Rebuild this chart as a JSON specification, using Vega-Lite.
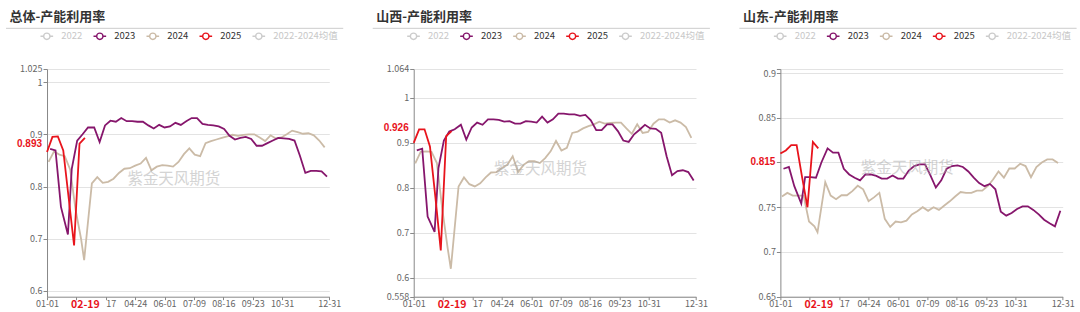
{
"$schema": "https://vega.github.io/schema/vega-lite/v6.json",
"background": "#ffffff",
"padding": {"left": 5, "top": 10, "right": 0, "bottom": 0},
"bounds": "flush",
"spacing": 83.7,
"resolve": {"scale": {"color": "independent"}, "legend": {"color": "independent"}},
"config": {
  "font": "Noto Sans CJK SC",
  "view": {"stroke": null},
  "axis": {"labelFont": "Noto Sans CJK SC", "labelFontSize": 9, "labelColor": "#666666", "domainColor": "#888888", "tickColor": "#888888", "gridColor": "#e3e3e3", "labelOverlap": false},
  "axisX": {"grid": false, "labelOverlap": false, "labelFlush": false, "tickSize": 3, "labelPadding": 0},
  "axisY": {"grid": true, "labelOverlap": false, "tickSize": 4, "labelPadding": 1},
  "title": {"anchor": "start", "frame": "bounds", "font": "Noto Sans CJK SC", "fontSize": 13, "fontWeight": "bold", "color": "#333333", "offset": 4, "dx": 4},
  "legend": {"orient": "none", "legendX": -7.7, "legendY": -40.5, "direction": "horizontal", "title": null, "symbolType": "M-1,0L-0.5,0M0.5,0L1,0M0.5,0A0.5,0.5,0,1,1,-0.5,0A0.5,0.5,0,1,1,0.5,0", "symbolSize": 160, "symbolStrokeWidth": 1.4, "symbolFillColor": "#ffffff", "labelFontSize": 9.5, "labelFont": "Noto Sans CJK SC", "labelColor": "#333333", "labelOffset": 7, "columnPadding": 7, "padding": 0}
},
"datasets": {"rows": [
{"panel":"总体","series":"2024","date":"2024-01-03","value":0.847},
{"panel":"总体","series":"2024","date":"2024-01-10","value":0.867},
{"panel":"总体","series":"2024","date":"2024-01-17","value":0.861},
{"panel":"总体","series":"2024","date":"2024-01-24","value":0.858},
{"panel":"总体","series":"2024","date":"2024-01-31","value":0.832},
{"panel":"总体","series":"2024","date":"2024-02-07","value":0.755},
{"panel":"总体","series":"2024","date":"2024-02-14","value":0.700},
{"panel":"总体","series":"2024","date":"2024-02-18","value":0.659},
{"panel":"总体","series":"2024","date":"2024-02-28","value":0.806},
{"panel":"总体","series":"2024","date":"2024-03-06","value":0.818},
{"panel":"总体","series":"2024","date":"2024-03-13","value":0.807},
{"panel":"总体","series":"2024","date":"2024-03-20","value":0.809},
{"panel":"总体","series":"2024","date":"2024-03-27","value":0.815},
{"panel":"总体","series":"2024","date":"2024-04-03","value":0.826},
{"panel":"总体","series":"2024","date":"2024-04-10","value":0.834},
{"panel":"总体","series":"2024","date":"2024-04-17","value":0.835},
{"panel":"总体","series":"2024","date":"2024-04-24","value":0.840},
{"panel":"总体","series":"2024","date":"2024-05-01","value":0.844},
{"panel":"总体","series":"2024","date":"2024-05-08","value":0.855},
{"panel":"总体","series":"2024","date":"2024-05-15","value":0.831},
{"panel":"总体","series":"2024","date":"2024-05-22","value":0.838},
{"panel":"总体","series":"2024","date":"2024-05-29","value":0.841},
{"panel":"总体","series":"2024","date":"2024-06-05","value":0.840},
{"panel":"总体","series":"2024","date":"2024-06-12","value":0.838},
{"panel":"总体","series":"2024","date":"2024-06-19","value":0.847},
{"panel":"总体","series":"2024","date":"2024-06-26","value":0.862},
{"panel":"总体","series":"2024","date":"2024-07-03","value":0.873},
{"panel":"总体","series":"2024","date":"2024-07-10","value":0.861},
{"panel":"总体","series":"2024","date":"2024-07-17","value":0.858},
{"panel":"总体","series":"2024","date":"2024-07-24","value":0.883},
{"panel":"总体","series":"2024","date":"2024-07-31","value":0.887},
{"panel":"总体","series":"2024","date":"2024-08-07","value":0.890},
{"panel":"总体","series":"2024","date":"2024-08-14","value":0.893},
{"panel":"总体","series":"2024","date":"2024-08-21","value":0.896},
{"panel":"总体","series":"2024","date":"2024-08-28","value":0.899},
{"panel":"总体","series":"2024","date":"2024-09-04","value":0.897},
{"panel":"总体","series":"2024","date":"2024-09-11","value":0.899},
{"panel":"总体","series":"2024","date":"2024-09-18","value":0.900},
{"panel":"总体","series":"2024","date":"2024-09-25","value":0.900},
{"panel":"总体","series":"2024","date":"2024-10-02","value":0.894},
{"panel":"总体","series":"2024","date":"2024-10-09","value":0.887},
{"panel":"总体","series":"2024","date":"2024-10-16","value":0.898},
{"panel":"总体","series":"2024","date":"2024-10-23","value":0.892},
{"panel":"总体","series":"2024","date":"2024-10-30","value":0.894},
{"panel":"总体","series":"2024","date":"2024-11-06","value":0.900},
{"panel":"总体","series":"2024","date":"2024-11-13","value":0.907},
{"panel":"总体","series":"2024","date":"2024-11-20","value":0.904},
{"panel":"总体","series":"2024","date":"2024-11-27","value":0.901},
{"panel":"总体","series":"2024","date":"2024-12-04","value":0.902},
{"panel":"总体","series":"2024","date":"2024-12-11","value":0.898},
{"panel":"总体","series":"2024","date":"2024-12-18","value":0.888},
{"panel":"总体","series":"2024","date":"2024-12-25","value":0.875},
{"panel":"总体","series":"2023","date":"2023-01-05","value":0.872},
{"panel":"总体","series":"2023","date":"2023-01-12","value":0.869},
{"panel":"总体","series":"2023","date":"2023-01-19","value":0.761},
{"panel":"总体","series":"2023","date":"2023-01-28","value":0.708},
{"panel":"总体","series":"2023","date":"2023-02-02","value":0.834},
{"panel":"总体","series":"2023","date":"2023-02-09","value":0.888},
{"panel":"总体","series":"2023","date":"2023-02-16","value":0.900},
{"panel":"总体","series":"2023","date":"2023-02-23","value":0.913},
{"panel":"总体","series":"2023","date":"2023-03-02","value":0.913},
{"panel":"总体","series":"2023","date":"2023-03-09","value":0.885},
{"panel":"总体","series":"2023","date":"2023-03-16","value":0.917},
{"panel":"总体","series":"2023","date":"2023-03-23","value":0.926},
{"panel":"总体","series":"2023","date":"2023-03-30","value":0.924},
{"panel":"总体","series":"2023","date":"2023-04-06","value":0.931},
{"panel":"总体","series":"2023","date":"2023-04-13","value":0.925},
{"panel":"总体","series":"2023","date":"2023-04-20","value":0.925},
{"panel":"总体","series":"2023","date":"2023-04-27","value":0.924},
{"panel":"总体","series":"2023","date":"2023-05-04","value":0.924},
{"panel":"总体","series":"2023","date":"2023-05-11","value":0.917},
{"panel":"总体","series":"2023","date":"2023-05-18","value":0.911},
{"panel":"总体","series":"2023","date":"2023-05-25","value":0.918},
{"panel":"总体","series":"2023","date":"2023-06-01","value":0.913},
{"panel":"总体","series":"2023","date":"2023-06-08","value":0.915},
{"panel":"总体","series":"2023","date":"2023-06-15","value":0.922},
{"panel":"总体","series":"2023","date":"2023-06-22","value":0.918},
{"panel":"总体","series":"2023","date":"2023-06-29","value":0.925},
{"panel":"总体","series":"2023","date":"2023-07-06","value":0.931},
{"panel":"总体","series":"2023","date":"2023-07-13","value":0.931},
{"panel":"总体","series":"2023","date":"2023-07-20","value":0.920},
{"panel":"总体","series":"2023","date":"2023-07-27","value":0.918},
{"panel":"总体","series":"2023","date":"2023-08-03","value":0.917},
{"panel":"总体","series":"2023","date":"2023-08-10","value":0.915},
{"panel":"总体","series":"2023","date":"2023-08-17","value":0.910},
{"panel":"总体","series":"2023","date":"2023-08-24","value":0.897},
{"panel":"总体","series":"2023","date":"2023-08-31","value":0.890},
{"panel":"总体","series":"2023","date":"2023-09-07","value":0.893},
{"panel":"总体","series":"2023","date":"2023-09-14","value":0.895},
{"panel":"总体","series":"2023","date":"2023-09-21","value":0.891},
{"panel":"总体","series":"2023","date":"2023-09-28","value":0.878},
{"panel":"总体","series":"2023","date":"2023-10-05","value":0.878},
{"panel":"总体","series":"2023","date":"2023-10-12","value":0.883},
{"panel":"总体","series":"2023","date":"2023-10-19","value":0.888},
{"panel":"总体","series":"2023","date":"2023-10-26","value":0.893},
{"panel":"总体","series":"2023","date":"2023-11-02","value":0.892},
{"panel":"总体","series":"2023","date":"2023-11-09","value":0.891},
{"panel":"总体","series":"2023","date":"2023-11-16","value":0.888},
{"panel":"总体","series":"2023","date":"2023-11-23","value":0.859},
{"panel":"总体","series":"2023","date":"2023-11-30","value":0.826},
{"panel":"总体","series":"2023","date":"2023-12-07","value":0.830},
{"panel":"总体","series":"2023","date":"2023-12-14","value":0.830},
{"panel":"总体","series":"2023","date":"2023-12-21","value":0.829},
{"panel":"总体","series":"2023","date":"2023-12-28","value":0.819},
{"panel":"总体","series":"2025","date":"2025-01-01","value":0.866},
{"panel":"总体","series":"2025","date":"2025-01-08","value":0.895},
{"panel":"总体","series":"2025","date":"2025-01-15","value":0.896},
{"panel":"总体","series":"2025","date":"2025-01-22","value":0.869},
{"panel":"总体","series":"2025","date":"2025-01-29","value":0.778},
{"panel":"总体","series":"2025","date":"2025-02-05","value":0.687},
{"panel":"总体","series":"2025","date":"2025-02-12","value":0.882},
{"panel":"总体","series":"2025","date":"2025-02-19","value":0.893},
{"panel":"山西","series":"2024","date":"2024-01-03","value":0.854},
{"panel":"山西","series":"2024","date":"2024-01-10","value":0.880},
{"panel":"山西","series":"2024","date":"2024-01-17","value":0.881},
{"panel":"山西","series":"2024","date":"2024-01-24","value":0.880},
{"panel":"山西","series":"2024","date":"2024-01-31","value":0.855},
{"panel":"山西","series":"2024","date":"2024-02-07","value":0.752},
{"panel":"山西","series":"2024","date":"2024-02-14","value":0.665},
{"panel":"山西","series":"2024","date":"2024-02-18","value":0.620},
{"panel":"山西","series":"2024","date":"2024-02-28","value":0.803},
{"panel":"山西","series":"2024","date":"2024-03-06","value":0.823},
{"panel":"山西","series":"2024","date":"2024-03-13","value":0.808},
{"panel":"山西","series":"2024","date":"2024-03-20","value":0.803},
{"panel":"山西","series":"2024","date":"2024-03-27","value":0.810},
{"panel":"山西","series":"2024","date":"2024-04-03","value":0.823},
{"panel":"山西","series":"2024","date":"2024-04-10","value":0.834},
{"panel":"山西","series":"2024","date":"2024-04-17","value":0.835},
{"panel":"山西","series":"2024","date":"2024-04-24","value":0.844},
{"panel":"山西","series":"2024","date":"2024-05-01","value":0.851},
{"panel":"山西","series":"2024","date":"2024-05-08","value":0.870},
{"panel":"山西","series":"2024","date":"2024-05-15","value":0.835},
{"panel":"山西","series":"2024","date":"2024-05-22","value":0.851},
{"panel":"山西","series":"2024","date":"2024-05-29","value":0.859},
{"panel":"山西","series":"2024","date":"2024-06-05","value":0.859},
{"panel":"山西","series":"2024","date":"2024-06-12","value":0.855},
{"panel":"山西","series":"2024","date":"2024-06-19","value":0.866},
{"panel":"山西","series":"2024","date":"2024-06-26","value":0.881},
{"panel":"山西","series":"2024","date":"2024-07-03","value":0.904},
{"panel":"山西","series":"2024","date":"2024-07-10","value":0.883},
{"panel":"山西","series":"2024","date":"2024-07-17","value":0.889},
{"panel":"山西","series":"2024","date":"2024-07-24","value":0.922},
{"panel":"山西","series":"2024","date":"2024-07-31","value":0.925},
{"panel":"山西","series":"2024","date":"2024-08-07","value":0.932},
{"panel":"山西","series":"2024","date":"2024-08-14","value":0.937},
{"panel":"山西","series":"2024","date":"2024-08-21","value":0.941},
{"panel":"山西","series":"2024","date":"2024-08-28","value":0.947},
{"panel":"山西","series":"2024","date":"2024-09-04","value":0.9425},
{"panel":"山西","series":"2024","date":"2024-09-11","value":0.944},
{"panel":"山西","series":"2024","date":"2024-09-18","value":0.945},
{"panel":"山西","series":"2024","date":"2024-09-25","value":0.945},
{"panel":"山西","series":"2024","date":"2024-10-02","value":0.932},
{"panel":"山西","series":"2024","date":"2024-10-09","value":0.920},
{"panel":"山西","series":"2024","date":"2024-10-16","value":0.941},
{"panel":"山西","series":"2024","date":"2024-10-23","value":0.922},
{"panel":"山西","series":"2024","date":"2024-10-30","value":0.924},
{"panel":"山西","series":"2024","date":"2024-11-06","value":0.9425},
{"panel":"山西","series":"2024","date":"2024-11-13","value":0.952},
{"panel":"山西","series":"2024","date":"2024-11-20","value":0.952},
{"panel":"山西","series":"2024","date":"2024-11-27","value":0.945},
{"panel":"山西","series":"2024","date":"2024-12-04","value":0.950},
{"panel":"山西","series":"2024","date":"2024-12-11","value":0.945},
{"panel":"山西","series":"2024","date":"2024-12-18","value":0.935},
{"panel":"山西","series":"2024","date":"2024-12-25","value":0.911},
{"panel":"山西","series":"2023","date":"2023-01-05","value":0.883},
{"panel":"山西","series":"2023","date":"2023-01-12","value":0.887},
{"panel":"山西","series":"2023","date":"2023-01-19","value":0.736},
{"panel":"山西","series":"2023","date":"2023-01-28","value":0.702},
{"panel":"山西","series":"2023","date":"2023-02-02","value":0.844},
{"panel":"山西","series":"2023","date":"2023-02-09","value":0.905},
{"panel":"山西","series":"2023","date":"2023-02-16","value":0.925},
{"panel":"山西","series":"2023","date":"2023-02-23","value":0.930},
{"panel":"山西","series":"2023","date":"2023-03-02","value":0.940},
{"panel":"山西","series":"2023","date":"2023-03-09","value":0.907},
{"panel":"山西","series":"2023","date":"2023-03-16","value":0.934},
{"panel":"山西","series":"2023","date":"2023-03-23","value":0.945},
{"panel":"山西","series":"2023","date":"2023-03-30","value":0.940},
{"panel":"山西","series":"2023","date":"2023-04-06","value":0.952},
{"panel":"山西","series":"2023","date":"2023-04-13","value":0.952},
{"panel":"山西","series":"2023","date":"2023-04-20","value":0.951},
{"panel":"山西","series":"2023","date":"2023-04-27","value":0.947},
{"panel":"山西","series":"2023","date":"2023-05-04","value":0.948},
{"panel":"山西","series":"2023","date":"2023-05-11","value":0.9425},
{"panel":"山西","series":"2023","date":"2023-05-18","value":0.9425},
{"panel":"山西","series":"2023","date":"2023-05-25","value":0.948},
{"panel":"山西","series":"2023","date":"2023-06-01","value":0.947},
{"panel":"山西","series":"2023","date":"2023-06-08","value":0.945},
{"panel":"山西","series":"2023","date":"2023-06-15","value":0.958},
{"panel":"山西","series":"2023","date":"2023-06-22","value":0.945},
{"panel":"山西","series":"2023","date":"2023-06-29","value":0.952},
{"panel":"山西","series":"2023","date":"2023-07-06","value":0.965},
{"panel":"山西","series":"2023","date":"2023-07-13","value":0.965},
{"panel":"山西","series":"2023","date":"2023-07-20","value":0.963},
{"panel":"山西","series":"2023","date":"2023-07-27","value":0.963},
{"panel":"山西","series":"2023","date":"2023-08-03","value":0.960},
{"panel":"山西","series":"2023","date":"2023-08-10","value":0.962},
{"panel":"山西","series":"2023","date":"2023-08-17","value":0.950},
{"panel":"山西","series":"2023","date":"2023-08-24","value":0.928},
{"panel":"山西","series":"2023","date":"2023-08-31","value":0.928},
{"panel":"山西","series":"2023","date":"2023-09-07","value":0.941},
{"panel":"山西","series":"2023","date":"2023-09-14","value":0.941},
{"panel":"山西","series":"2023","date":"2023-09-21","value":0.926},
{"panel":"山西","series":"2023","date":"2023-09-28","value":0.905},
{"panel":"山西","series":"2023","date":"2023-10-05","value":0.902},
{"panel":"山西","series":"2023","date":"2023-10-12","value":0.919},
{"panel":"山西","series":"2023","date":"2023-10-19","value":0.929},
{"panel":"山西","series":"2023","date":"2023-10-26","value":0.940},
{"panel":"山西","series":"2023","date":"2023-11-02","value":0.932},
{"panel":"山西","series":"2023","date":"2023-11-09","value":0.931},
{"panel":"山西","series":"2023","date":"2023-11-16","value":0.922},
{"panel":"山西","series":"2023","date":"2023-11-23","value":0.870},
{"panel":"山西","series":"2023","date":"2023-11-30","value":0.828},
{"panel":"山西","series":"2023","date":"2023-12-07","value":0.837},
{"panel":"山西","series":"2023","date":"2023-12-14","value":0.839},
{"panel":"山西","series":"2023","date":"2023-12-21","value":0.835},
{"panel":"山西","series":"2023","date":"2023-12-28","value":0.816},
{"panel":"山西","series":"2025","date":"2025-01-01","value":0.900},
{"panel":"山西","series":"2025","date":"2025-01-08","value":0.930},
{"panel":"山西","series":"2025","date":"2025-01-15","value":0.930},
{"panel":"山西","series":"2025","date":"2025-01-22","value":0.892},
{"panel":"山西","series":"2025","date":"2025-01-29","value":0.780},
{"panel":"山西","series":"2025","date":"2025-02-05","value":0.661},
{"panel":"山西","series":"2025","date":"2025-02-12","value":0.915},
{"panel":"山西","series":"2025","date":"2025-02-19","value":0.926},
{"panel":"山东","series":"2024","date":"2024-01-03","value":0.762},
{"panel":"山东","series":"2024","date":"2024-01-10","value":0.766},
{"panel":"山东","series":"2024","date":"2024-01-17","value":0.763},
{"panel":"山东","series":"2024","date":"2024-01-24","value":0.763},
{"panel":"山东","series":"2024","date":"2024-01-31","value":0.763},
{"panel":"山东","series":"2024","date":"2024-02-07","value":0.734},
{"panel":"山东","series":"2024","date":"2024-02-14","value":0.7286},
{"panel":"山东","series":"2024","date":"2024-02-18","value":0.722},
{"panel":"山东","series":"2024","date":"2024-02-28","value":0.778},
{"panel":"山东","series":"2024","date":"2024-03-06","value":0.763},
{"panel":"山东","series":"2024","date":"2024-03-13","value":0.759},
{"panel":"山东","series":"2024","date":"2024-03-20","value":0.7634},
{"panel":"山东","series":"2024","date":"2024-03-27","value":0.7634},
{"panel":"山东","series":"2024","date":"2024-04-03","value":0.768},
{"panel":"山东","series":"2024","date":"2024-04-10","value":0.774},
{"panel":"山东","series":"2024","date":"2024-04-17","value":0.770},
{"panel":"山东","series":"2024","date":"2024-04-24","value":0.7567},
{"panel":"山东","series":"2024","date":"2024-05-01","value":0.761},
{"panel":"山东","series":"2024","date":"2024-05-08","value":0.766},
{"panel":"山东","series":"2024","date":"2024-05-15","value":0.737},
{"panel":"山东","series":"2024","date":"2024-05-22","value":0.728},
{"panel":"山东","series":"2024","date":"2024-05-29","value":0.734},
{"panel":"山东","series":"2024","date":"2024-06-05","value":0.733},
{"panel":"山东","series":"2024","date":"2024-06-12","value":0.735},
{"panel":"山东","series":"2024","date":"2024-06-19","value":0.742},
{"panel":"山东","series":"2024","date":"2024-06-26","value":0.7455},
{"panel":"山东","series":"2024","date":"2024-07-03","value":0.750},
{"panel":"山东","series":"2024","date":"2024-07-10","value":0.746},
{"panel":"山东","series":"2024","date":"2024-07-17","value":0.750},
{"panel":"山东","series":"2024","date":"2024-07-24","value":0.747},
{"panel":"山东","series":"2024","date":"2024-07-31","value":0.752},
{"panel":"山东","series":"2024","date":"2024-08-07","value":0.7566},
{"panel":"山东","series":"2024","date":"2024-08-14","value":0.762},
{"panel":"山东","series":"2024","date":"2024-08-21","value":0.767},
{"panel":"山东","series":"2024","date":"2024-08-28","value":0.766},
{"panel":"山东","series":"2024","date":"2024-09-04","value":0.766},
{"panel":"山东","series":"2024","date":"2024-09-11","value":0.7686},
{"panel":"山东","series":"2024","date":"2024-09-18","value":0.7686},
{"panel":"山东","series":"2024","date":"2024-09-25","value":0.7735},
{"panel":"山东","series":"2024","date":"2024-10-02","value":0.781},
{"panel":"山东","series":"2024","date":"2024-10-09","value":0.790},
{"panel":"山东","series":"2024","date":"2024-10-16","value":0.783},
{"panel":"山东","series":"2024","date":"2024-10-23","value":0.7933},
{"panel":"山东","series":"2024","date":"2024-10-30","value":0.7933},
{"panel":"山东","series":"2024","date":"2024-11-06","value":0.7986},
{"panel":"山东","series":"2024","date":"2024-11-13","value":0.796},
{"panel":"山东","series":"2024","date":"2024-11-20","value":0.7836},
{"panel":"山东","series":"2024","date":"2024-11-27","value":0.795},
{"panel":"山东","series":"2024","date":"2024-12-04","value":0.800},
{"panel":"山东","series":"2024","date":"2024-12-11","value":0.8034},
{"panel":"山东","series":"2024","date":"2024-12-18","value":0.8034},
{"panel":"山东","series":"2024","date":"2024-12-25","value":0.7993},
{"panel":"山东","series":"2023","date":"2023-01-05","value":0.793},
{"panel":"山东","series":"2023","date":"2023-01-12","value":0.795},
{"panel":"山东","series":"2023","date":"2023-01-19","value":0.7735},
{"panel":"山东","series":"2023","date":"2023-01-28","value":0.754},
{"panel":"山东","series":"2023","date":"2023-02-02","value":0.7836},
{"panel":"山东","series":"2023","date":"2023-02-09","value":0.7836},
{"panel":"山东","series":"2023","date":"2023-02-16","value":0.783},
{"panel":"山东","series":"2023","date":"2023-02-23","value":0.800},
{"panel":"山东","series":"2023","date":"2023-03-02","value":0.8158},
{"panel":"山东","series":"2023","date":"2023-03-09","value":0.811},
{"panel":"山东","series":"2023","date":"2023-03-16","value":0.811},
{"panel":"山东","series":"2023","date":"2023-03-23","value":0.793},
{"panel":"山东","series":"2023","date":"2023-03-30","value":0.7866},
{"panel":"山东","series":"2023","date":"2023-04-06","value":0.783},
{"panel":"山东","series":"2023","date":"2023-04-13","value":0.780},
{"panel":"山东","series":"2023","date":"2023-04-20","value":0.7866},
{"panel":"山东","series":"2023","date":"2023-04-27","value":0.7866},
{"panel":"山东","series":"2023","date":"2023-05-04","value":0.785},
{"panel":"山东","series":"2023","date":"2023-05-11","value":0.782},
{"panel":"山东","series":"2023","date":"2023-05-18","value":0.782},
{"panel":"山东","series":"2023","date":"2023-05-25","value":0.7855},
{"panel":"山东","series":"2023","date":"2023-06-01","value":0.782},
{"panel":"山东","series":"2023","date":"2023-06-08","value":0.782},
{"panel":"山东","series":"2023","date":"2023-06-15","value":0.791},
{"panel":"山东","series":"2023","date":"2023-06-22","value":0.796},
{"panel":"山东","series":"2023","date":"2023-06-29","value":0.798},
{"panel":"山东","series":"2023","date":"2023-07-06","value":0.798},
{"panel":"山东","series":"2023","date":"2023-07-13","value":0.7855},
{"panel":"山东","series":"2023","date":"2023-07-20","value":0.772},
{"panel":"山东","series":"2023","date":"2023-07-27","value":0.780},
{"panel":"山东","series":"2023","date":"2023-08-03","value":0.793},
{"panel":"山东","series":"2023","date":"2023-08-10","value":0.796},
{"panel":"山东","series":"2023","date":"2023-08-17","value":0.7967},
{"panel":"山东","series":"2023","date":"2023-08-24","value":0.795},
{"panel":"山东","series":"2023","date":"2023-08-31","value":0.790},
{"panel":"山东","series":"2023","date":"2023-09-07","value":0.783},
{"panel":"山东","series":"2023","date":"2023-09-14","value":0.777},
{"panel":"山东","series":"2023","date":"2023-09-21","value":0.7735},
{"panel":"山东","series":"2023","date":"2023-09-28","value":0.776},
{"panel":"山东","series":"2023","date":"2023-10-05","value":0.770},
{"panel":"山东","series":"2023","date":"2023-10-12","value":0.745},
{"panel":"山东","series":"2023","date":"2023-10-19","value":0.7406},
{"panel":"山东","series":"2023","date":"2023-10-26","value":0.7436},
{"panel":"山东","series":"2023","date":"2023-11-02","value":0.748},
{"panel":"山东","series":"2023","date":"2023-11-09","value":0.751},
{"panel":"山东","series":"2023","date":"2023-11-16","value":0.751},
{"panel":"山东","series":"2023","date":"2023-11-23","value":0.747},
{"panel":"山东","series":"2023","date":"2023-11-30","value":0.742},
{"panel":"山东","series":"2023","date":"2023-12-07","value":0.736},
{"panel":"山东","series":"2023","date":"2023-12-14","value":0.732},
{"panel":"山东","series":"2023","date":"2023-12-21","value":0.7286},
{"panel":"山东","series":"2023","date":"2023-12-28","value":0.746},
{"panel":"山东","series":"2025","date":"2025-01-01","value":0.810},
{"panel":"山东","series":"2025","date":"2025-01-08","value":0.8135},
{"panel":"山东","series":"2025","date":"2025-01-15","value":0.8195},
{"panel":"山东","series":"2025","date":"2025-01-22","value":0.8195},
{"panel":"山东","series":"2025","date":"2025-01-29","value":0.784},
{"panel":"山东","series":"2025","date":"2025-02-05","value":0.750},
{"panel":"山东","series":"2025","date":"2025-02-12","value":0.823},
{"panel":"山东","series":"2025","date":"2025-02-19","value":0.8158}
]},
"hconcat": [
{
 "width": 282.3, "height": 227.7,
 "title": {"text": "总体-产能利用率"},
 "resolve": {"scale": {"x": "independent", "y": "independent"}, "axis": {"x": "independent", "y": "independent"}},
 "layer": [
  {"data": {"name": "rows"}, "transform": [{"filter": "datum.panel === '总体'"}],
   "mark": {"type": "line"},
   "encoding": {
    "x": {"field": "date", "timeUnit": "utcmonthdate", "type": "temporal",
          "scale": {"type": "utc", "domain": [{"year": 2012, "month": 1, "date": 1, "utc": true}, {"year": 2012, "month": 12, "date": 31, "utc": true}]},
          "axis": {"title": null, "labelOverlap": false, "labelFlush": false, "grid": false,
                   "values": [{"year": 2012, "month": 1, "date": 1, "utc": true}, {"year": 2012, "month": 2, "date": 8, "utc": true}, {"year": 2012, "month": 2, "date": 19, "utc": true}, {"year": 2012, "month": 3, "date": 17, "utc": true}, {"year": 2012, "month": 4, "date": 24, "utc": true}, {"year": 2012, "month": 6, "date": 1, "utc": true}, {"year": 2012, "month": 7, "date": 9, "utc": true}, {"year": 2012, "month": 8, "date": 16, "utc": true}, {"year": 2012, "month": 9, "date": 23, "utc": true}, {"year": 2012, "month": 10, "date": 31, "utc": true}, {"year": 2012, "month": 12, "date": 31, "utc": true}],
                   "labelExpr": "utcFormat(datum.value, '%m-%d') === '02-08' ? '' : (utcFormat(datum.value, '%m-%d') === '03-17' ? '17' : utcFormat(datum.value, '%m-%d'))",
                   "labelColor": {"condition": {"test": "utcFormat(datum.value, '%m-%d') === '02-19'", "value": "#e8141c"}, "value": "#666666"},
                   "labelFontWeight": {"condition": {"test": "utcFormat(datum.value, '%m-%d') === '02-19'", "value": "bold"}, "value": "normal"},
                   "labelFontSize": {"condition": {"test": "utcFormat(datum.value, '%m-%d') === '02-19'", "value": 10.5}, "value": 9},
                   "labelAlign": {"condition": {"test": "utcFormat(datum.value, '%m-%d') === '03-17'", "value": "left"}, "value": "center"},
                   "tickOpacity": {"condition": {"test": "utcFormat(datum.value, '%m-%d') === '02-19'", "value": 0}, "value": 1}}},
    "y": {"field": "value", "type": "quantitative", "scale": {"domain": [0.589, 1.025], "zero": false, "nice": false},
          "axis": {"title": null, "labelOverlap": false, "grid": true, "values": [0.6, 0.7, 0.8, 0.9, 1, 1.025], "labelExpr": "format(datum.value, '~g')"}},
    "color": {"field": "series", "type": "nominal", "scale": {"domain": ["2022", "2023", "2024", "2025", "2022-2024均值"], "range": ["#cccccc", "#86166c", "#cbbba7", "#e8141c", "#cccccc"]},
              "legend": {"encode": {"labels": {"update": {"fill": {"signal": "datum.value === '2022' || datum.value === '2022-2024均值' ? '#c8c8c8' : '#333333'"}}}}}},
    "size": {"field": "series", "type": "nominal", "scale": {"domain": ["2023", "2024", "2025"], "range": [1.8, 1.8, 2.6]}, "legend": null}
   }},
  {"data": {"values": [{}]}, "mark": {"type": "rule", "color": "#cccccc", "strokeWidth": 1},
   "encoding": {"x": {"datum": {"year": 2011, "month": 11, "date": 9, "utc": true}, "type": "temporal", "axis": null, "scale": {"type": "utc", "domain": [{"year": 2012, "month": 1, "date": 1, "utc": true}, {"year": 2012, "month": 12, "date": 31, "utc": true}]}},
                "x2": {"datum": {"year": 2013, "month": 1, "date": 18, "utc": true}},
                "y": {"datum": 1.1029, "type": "quantitative", "axis": null, "scale": {"domain": [0.589, 1.025], "zero": false, "nice": false}}}},
  {"data": {"values": [{}]}, "mark": {"type": "text", "text": "紫金天风期货", "fontSize": 15.5, "color": "#aaaaaa", "opacity": 0.5, "font": "Noto Sans CJK SC", "baseline": "middle"},
   "encoding": {"x": {"datum": {"year": 2012, "month": 6, "date": 13, "utc": true}, "type": "temporal", "axis": null, "scale": {"type": "utc", "domain": [{"year": 2012, "month": 1, "date": 1, "utc": true}, {"year": 2012, "month": 12, "date": 31, "utc": true}]}},
                "y": {"datum": 0.815, "type": "quantitative", "axis": null, "scale": {"domain": [0.589, 1.025], "zero": false, "nice": false}}}},
  {"data": {"values": [{}]}, "mark": {"type": "text", "text": "0.893", "align": "right", "baseline": "middle", "dx": -5, "dy": 6.5, "fontSize": 10, "fontWeight": "bold", "color": "#e8141c", "font": "Liberation Sans"},
   "encoding": {"x": {"datum": {"year": 2012, "month": 1, "date": 1, "utc": true}, "type": "temporal", "axis": null, "scale": {"type": "utc", "domain": [{"year": 2012, "month": 1, "date": 1, "utc": true}, {"year": 2012, "month": 12, "date": 31, "utc": true}]}},
                "y": {"datum": 0.893, "type": "quantitative", "axis": null, "scale": {"domain": [0.589, 1.025], "zero": false, "nice": false}}}}
 ]
},
{
 "width": 282.3, "height": 227.7,
 "title": {"text": "山西-产能利用率"},
 "resolve": {"scale": {"x": "independent", "y": "independent"}, "axis": {"x": "independent", "y": "independent"}},
 "layer": [
  {"data": {"name": "rows"}, "transform": [{"filter": "datum.panel === '山西'"}],
   "mark": {"type": "line"},
   "encoding": {
    "x": {"field": "date", "timeUnit": "utcmonthdate", "type": "temporal",
          "scale": {"type": "utc", "domain": [{"year": 2012, "month": 1, "date": 1, "utc": true}, {"year": 2012, "month": 12, "date": 31, "utc": true}]},
          "axis": {"title": null, "labelOverlap": false, "labelFlush": false, "grid": false,
                   "values": [{"year": 2012, "month": 1, "date": 1, "utc": true}, {"year": 2012, "month": 2, "date": 8, "utc": true}, {"year": 2012, "month": 2, "date": 19, "utc": true}, {"year": 2012, "month": 3, "date": 17, "utc": true}, {"year": 2012, "month": 4, "date": 24, "utc": true}, {"year": 2012, "month": 6, "date": 1, "utc": true}, {"year": 2012, "month": 7, "date": 9, "utc": true}, {"year": 2012, "month": 8, "date": 16, "utc": true}, {"year": 2012, "month": 9, "date": 23, "utc": true}, {"year": 2012, "month": 10, "date": 31, "utc": true}, {"year": 2012, "month": 12, "date": 31, "utc": true}],
                   "labelExpr": "utcFormat(datum.value, '%m-%d') === '02-08' ? '' : (utcFormat(datum.value, '%m-%d') === '03-17' ? '17' : utcFormat(datum.value, '%m-%d'))",
                   "labelColor": {"condition": {"test": "utcFormat(datum.value, '%m-%d') === '02-19'", "value": "#e8141c"}, "value": "#666666"},
                   "labelFontWeight": {"condition": {"test": "utcFormat(datum.value, '%m-%d') === '02-19'", "value": "bold"}, "value": "normal"},
                   "labelFontSize": {"condition": {"test": "utcFormat(datum.value, '%m-%d') === '02-19'", "value": 10.5}, "value": 9},
                   "labelAlign": {"condition": {"test": "utcFormat(datum.value, '%m-%d') === '03-17'", "value": "left"}, "value": "center"},
                   "tickOpacity": {"condition": {"test": "utcFormat(datum.value, '%m-%d') === '02-19'", "value": 0}, "value": 1}}},
    "y": {"field": "value", "type": "quantitative", "scale": {"domain": [0.558, 1.064], "zero": false, "nice": false},
          "axis": {"title": null, "labelOverlap": false, "grid": true, "values": [0.558, 0.6, 0.7, 0.8, 0.9, 1, 1.064], "labelExpr": "format(datum.value, '~g')"}},
    "color": {"field": "series", "type": "nominal", "scale": {"domain": ["2022", "2023", "2024", "2025", "2022-2024均值"], "range": ["#cccccc", "#86166c", "#cbbba7", "#e8141c", "#cccccc"]},
              "legend": {"encode": {"labels": {"update": {"fill": {"signal": "datum.value === '2022' || datum.value === '2022-2024均值' ? '#c8c8c8' : '#333333'"}}}}}},
    "size": {"field": "series", "type": "nominal", "scale": {"domain": ["2023", "2024", "2025"], "range": [1.8, 1.8, 2.6]}, "legend": null}
   }},
  {"data": {"values": [{}]}, "mark": {"type": "rule", "color": "#cccccc", "strokeWidth": 1},
   "encoding": {"x": {"datum": {"year": 2011, "month": 11, "date": 9, "utc": true}, "type": "temporal", "axis": null, "scale": {"type": "utc", "domain": [{"year": 2012, "month": 1, "date": 1, "utc": true}, {"year": 2012, "month": 12, "date": 31, "utc": true}]}},
                "x2": {"datum": {"year": 2013, "month": 1, "date": 18, "utc": true}},
                "y": {"datum": 1.1544, "type": "quantitative", "axis": null, "scale": {"domain": [0.558, 1.064], "zero": false, "nice": false}}}},
  {"data": {"values": [{}]}, "mark": {"type": "text", "text": "紫金天风期货", "fontSize": 15.5, "color": "#aaaaaa", "opacity": 0.5, "font": "Noto Sans CJK SC", "baseline": "middle"},
   "encoding": {"x": {"datum": {"year": 2012, "month": 6, "date": 13, "utc": true}, "type": "temporal", "axis": null, "scale": {"type": "utc", "domain": [{"year": 2012, "month": 1, "date": 1, "utc": true}, {"year": 2012, "month": 12, "date": 31, "utc": true}]}},
                "y": {"datum": 0.842, "type": "quantitative", "axis": null, "scale": {"domain": [0.558, 1.064], "zero": false, "nice": false}}}},
  {"data": {"values": [{}]}, "mark": {"type": "text", "text": "0.926", "align": "right", "baseline": "middle", "dx": -5, "dy": -3.4, "fontSize": 10, "fontWeight": "bold", "color": "#e8141c", "font": "Liberation Sans"},
   "encoding": {"x": {"datum": {"year": 2012, "month": 1, "date": 1, "utc": true}, "type": "temporal", "axis": null, "scale": {"type": "utc", "domain": [{"year": 2012, "month": 1, "date": 1, "utc": true}, {"year": 2012, "month": 12, "date": 31, "utc": true}]}},
                "y": {"datum": 0.926, "type": "quantitative", "axis": null, "scale": {"domain": [0.558, 1.064], "zero": false, "nice": false}}}}
 ]
},
{
 "width": 282.3, "height": 227.7,
 "title": {"text": "山东-产能利用率"},
 "resolve": {"scale": {"x": "independent", "y": "independent"}, "axis": {"x": "independent", "y": "independent"}},
 "layer": [
  {"data": {"name": "rows"}, "transform": [{"filter": "datum.panel === '山东'"}],
   "mark": {"type": "line"},
   "encoding": {
    "x": {"field": "date", "timeUnit": "utcmonthdate", "type": "temporal",
          "scale": {"type": "utc", "domain": [{"year": 2012, "month": 1, "date": 1, "utc": true}, {"year": 2012, "month": 12, "date": 31, "utc": true}]},
          "axis": {"title": null, "labelOverlap": false, "labelFlush": false, "grid": false,
                   "values": [{"year": 2012, "month": 1, "date": 1, "utc": true}, {"year": 2012, "month": 2, "date": 8, "utc": true}, {"year": 2012, "month": 2, "date": 19, "utc": true}, {"year": 2012, "month": 3, "date": 17, "utc": true}, {"year": 2012, "month": 4, "date": 24, "utc": true}, {"year": 2012, "month": 6, "date": 1, "utc": true}, {"year": 2012, "month": 7, "date": 9, "utc": true}, {"year": 2012, "month": 8, "date": 16, "utc": true}, {"year": 2012, "month": 9, "date": 23, "utc": true}, {"year": 2012, "month": 10, "date": 31, "utc": true}, {"year": 2012, "month": 12, "date": 31, "utc": true}],
                   "labelExpr": "utcFormat(datum.value, '%m-%d') === '02-08' ? '' : (utcFormat(datum.value, '%m-%d') === '03-17' ? '17' : utcFormat(datum.value, '%m-%d'))",
                   "labelColor": {"condition": {"test": "utcFormat(datum.value, '%m-%d') === '02-19'", "value": "#e8141c"}, "value": "#666666"},
                   "labelFontWeight": {"condition": {"test": "utcFormat(datum.value, '%m-%d') === '02-19'", "value": "bold"}, "value": "normal"},
                   "labelFontSize": {"condition": {"test": "utcFormat(datum.value, '%m-%d') === '02-19'", "value": 10.5}, "value": 9},
                   "labelAlign": {"condition": {"test": "utcFormat(datum.value, '%m-%d') === '03-17'", "value": "left"}, "value": "center"},
                   "tickOpacity": {"condition": {"test": "utcFormat(datum.value, '%m-%d') === '02-19'", "value": 0}, "value": 1}}},
    "y": {"field": "value", "type": "quantitative", "scale": {"domain": [0.65, 0.9045], "zero": false, "nice": false},
          "axis": {"title": null, "labelOverlap": false, "grid": true, "values": [0.65, 0.7, 0.75, 0.8, 0.85, 0.9, 0.9045], "labelExpr": "(datum.value > 0.901 || abs(datum.value - 0.8) < 0.001) ? '' : format(datum.value, '~g')"}},
    "color": {"field": "series", "type": "nominal", "scale": {"domain": ["2022", "2023", "2024", "2025", "2022-2024均值"], "range": ["#cccccc", "#86166c", "#cbbba7", "#e8141c", "#cccccc"]},
              "legend": {"encode": {"labels": {"update": {"fill": {"signal": "datum.value === '2022' || datum.value === '2022-2024均值' ? '#c8c8c8' : '#333333'"}}}}}},
    "size": {"field": "series", "type": "nominal", "scale": {"domain": ["2023", "2024", "2025"], "range": [1.8, 1.8, 2.6]}, "legend": null}
   }},
  {"data": {"values": [{}]}, "mark": {"type": "rule", "color": "#cccccc", "strokeWidth": 1},
   "encoding": {"x": {"datum": {"year": 2011, "month": 11, "date": 9, "utc": true}, "type": "temporal", "axis": null, "scale": {"type": "utc", "domain": [{"year": 2012, "month": 1, "date": 1, "utc": true}, {"year": 2012, "month": 12, "date": 31, "utc": true}]}},
                "x2": {"datum": {"year": 2013, "month": 1, "date": 18, "utc": true}},
                "y": {"datum": 0.95, "type": "quantitative", "axis": null, "scale": {"domain": [0.65, 0.9045], "zero": false, "nice": false}}}},
  {"data": {"values": [{}]}, "mark": {"type": "text", "text": "紫金天风期货", "fontSize": 15.5, "color": "#aaaaaa", "opacity": 0.5, "font": "Noto Sans CJK SC", "baseline": "middle"},
   "encoding": {"x": {"datum": {"year": 2012, "month": 6, "date": 13, "utc": true}, "type": "temporal", "axis": null, "scale": {"type": "utc", "domain": [{"year": 2012, "month": 1, "date": 1, "utc": true}, {"year": 2012, "month": 12, "date": 31, "utc": true}]}},
                "y": {"datum": 0.794, "type": "quantitative", "axis": null, "scale": {"domain": [0.65, 0.9045], "zero": false, "nice": false}}}},
  {"data": {"values": [{}]}, "mark": {"type": "text", "text": "0.815", "align": "right", "baseline": "middle", "dx": -5, "dy": 13.2, "fontSize": 10, "fontWeight": "bold", "color": "#e8141c", "font": "Liberation Sans"},
   "encoding": {"x": {"datum": {"year": 2012, "month": 1, "date": 1, "utc": true}, "type": "temporal", "axis": null, "scale": {"type": "utc", "domain": [{"year": 2012, "month": 1, "date": 1, "utc": true}, {"year": 2012, "month": 12, "date": 31, "utc": true}]}},
                "y": {"datum": 0.815, "type": "quantitative", "axis": null, "scale": {"domain": [0.65, 0.9045], "zero": false, "nice": false}}}}
 ]
}
]
}
